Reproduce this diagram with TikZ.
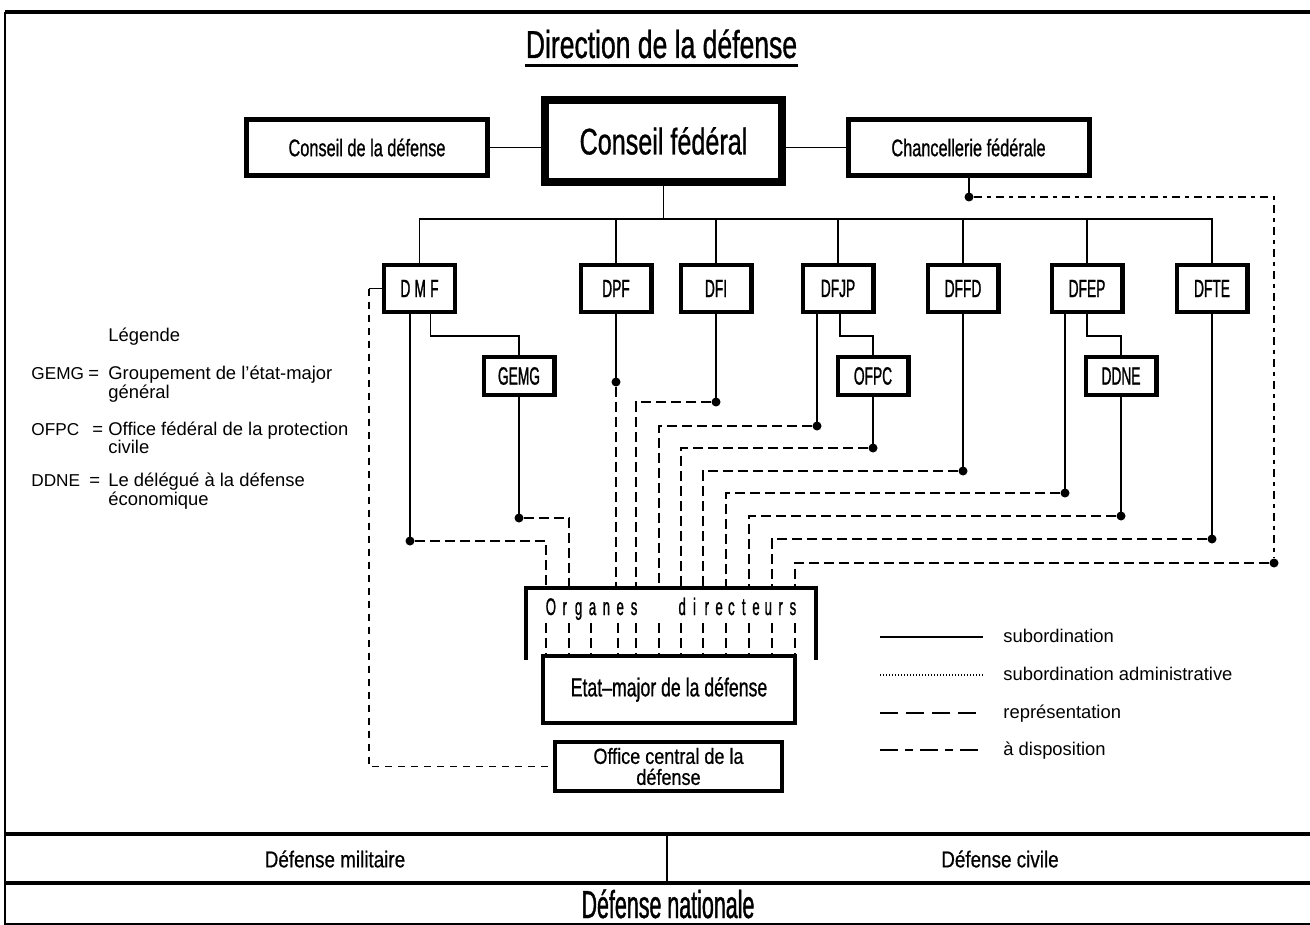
\documentclass[tikz,border=0pt]{standalone}
\usepackage{fontspec}
\setmainfont{Liberation Sans}
\newfontfamily\condA[FakeStretch=0.68,FakeBold=0.8]{Liberation Sans}
\newfontfamily\condN[FakeStretch=0.55,FakeBold=1]{Liberation Sans}
\newfontfamily\condW[FakeStretch=0.82,FakeBold=0.6]{Liberation Sans}
\tikzset{
 box/.style={draw, line width=2.2pt, inner sep=0pt, fill=white},
 dept/.style={box, minimum width=35.3pt, minimum height=23.3pt, font=\condN\fontsize{12.5}{14}\selectfont},
 subbox/.style={box, minimum width=35.3pt, minimum height=18.8pt, font=\condN\fontsize{12.5}{14}\selectfont},
 topbox/.style={box, line width=2.5pt, minimum width=120.5pt, minimum height=28pt, font=\condA\fontsize{12}{14}\selectfont},
 con/.style={line width=0.65pt},
 rep/.style={line width=0.75pt, dash pattern=on 5pt off 2.5pt},
 disp/.style={line width=0.7pt, dash pattern=on 4pt off 2.5pt on 2pt off 2.5pt},
 dispb/.style={line width=0.7pt, dash pattern=on 3.5pt off 3pt},
 stub/.style={line width=0.7pt, dash pattern=on 5pt off 2.5pt},
 dot/.style={circle, fill, inner sep=0pt, minimum size=4.5pt},
 leg/.style={font=\fontsize{9.2}{11}\selectfont, anchor=base west, inner sep=0pt},
 legabbr/.style={leg, font=\fontsize{8.6}{11}\selectfont},
 orgl/.style={font=\condN\fontsize{12}{14}\selectfont, anchor=base, inner sep=0pt},
}
\begin{document}
\begin{tikzpicture}[x=0.5pt,y=-0.5pt]
\useasboundingbox (0,0) rectangle (1310,925);
% frame
\draw[line width=1pt] (5,12) -- (5,925);
\draw[line width=1.6pt] (5,12) -- (1310,12);
\draw[line width=2pt] (5,834) -- (1310,834);
\draw[line width=2pt] (5,883) -- (1310,883);
\draw[line width=0.8pt] (5,924.2) -- (1310,924.2);
\draw[line width=1pt] (667,834) -- (667,883);
% title
\node[font=\condA\fontsize{19.5}{22}\selectfont, anchor=base, inner sep=0pt] (title) at (661.5,58) {Direction de la défense};
\draw[line width=1.5pt] ([yshift=-4pt]title.base west) -- ([yshift=-4pt]title.base east);
% top boxes
\node[box, line width=4pt, minimum width=118.5pt, minimum height=41pt, font=\condA\fontsize{18.5}{20}\selectfont] (cf) at (663.5,141) {Conseil fédéral};
\node[topbox] (cdd) at (367,147.5) {Conseil de la défense};
\node[topbox] (chf) at (968.5,147.5) {Chancellerie fédérale};
\draw[con] (cdd.east) -- (cdd.east -| cf.west);
\draw[con] (chf.west) -- (chf.west -| cf.east);
% departments
\node[dept] (dmf) at (419.5,288.5) {D\,M\,F};
\node[dept] (dpf) at (616,288.5) {DPF};
\node[dept] (dfi) at (716,288.5) {DFI};
\node[dept] (dfjp) at (838,288.5) {DFJP};
\node[dept] (dffd) at (963,288.5) {DFFD};
\node[dept] (dfep) at (1087,288.5) {DFEP};
\node[dept] (dfte) at (1212,288.5) {DFTE};
\node[subbox] (gemg) at (519,376) {GEMG};
\node[subbox] (ofpc) at (873,376) {OFPC};
\node[subbox] (ddne) at (1121,376) {DDNE};
% bus
\coordinate (bus) at (664,219);
\draw[con] (cf.south) -- (cf.south |- bus);
\draw[con] (dmf.north) -- (dmf.north |- bus) -- (dfte.north |- bus) -- (dfte.north);
\foreach \n in {dpf,dfi,dfjp,dffd,dfep} \draw[con] (\n.north) -- (\n.north |- bus);
% sub connectors
\draw[con] ([xshift=5.5pt]dmf.south) -- ++(0,22) -| (gemg.north);
\draw[con] ([xshift=1pt]dfjp.south) -- ++(0,22) -| (ofpc.north);
\draw[con] (dfep.south) -- ++(0,22) -| (ddne.north);
% dots
\node[dot] (p1) at (410,541) {};
\node[dot] (p2) at (519,518) {};
\node[dot] (p3) at (616,382) {};
\node[dot] (p4) at (716,402) {};
\node[dot] (p5) at (817,426) {};
\node[dot] (p6) at (873,448) {};
\node[dot] (p7) at (963,471) {};
\node[dot] (p8) at (1065,493) {};
\node[dot] (p9) at (1121,516) {};
\node[dot] (p10) at (1212,539) {};
\node[dot] (p11) at (969,197) {};
\node[dot] (p12) at (1274,563) {};
% solid to dots
\draw[con] (dmf.south -| p1) -- (p1.center);
\draw[con] (gemg.south) -- (p2.center);
\draw[con] (dpf.south) -- (p3.center);
\draw[con] (dfi.south) -- (p4.center);
\draw[con] (dfjp.south -| p5) -- (p5.center);
\draw[con] (ofpc.south) -- (p6.center);
\draw[con] (dffd.south) -- (p7.center);
\draw[con] (dfep.south -| p8) -- (p8.center);
\draw[con] (ddne.south) -- (p9.center);
\draw[con] (dfte.south) -- (p10.center);
\draw[con] (chf.south -| p11) -- (p11.center);
% organes directeurs
\draw[line width=2pt] (526,660) -- (526,588) -- (816,588) -- (816,660);
\foreach \x [count=\i] in {546,569,616,636,659,681,703,726,749,772,795} \coordinate (o\i) at (\x,588);
\draw[rep] (p1) -| (o1);
\draw[rep] (p2) -| (o2);
\draw[rep] (p3) -- (o3);
\draw[rep] (p4) -| (o4);
\draw[rep] (p5) -| (o5);
\draw[rep] (p6) -| (o6);
\draw[rep] (p7) -| (o7);
\draw[rep] (p8) -| (o8);
\draw[rep] (p9) -| (o9);
\draw[rep] (p10) -| (o10);
\draw[disp] (p11) -| (p12);
\draw[rep] (p12) -| (o11);
\foreach \c [count=\i] in {O,r,g,a,n,e,s} \node[orgl] (og\i) at ({550.9+13.86*(\i-1)},615) {\c};
\foreach \c [count=\i] in {d,i,r,e,c,t,e,u,r,s} \node[orgl] (od\i) at ({682.2+12.3*(\i-1)},615) {\c};
% etat-major and office
\node[box, line width=2.2pt, minimum width=125.8pt, minimum height=33.3pt, font=\condA\fontsize{13}{15}\selectfont] (em) at (669,689.5) {Etat–major de la défense};
\foreach \x [count=\i] in {546,569,591,618,636,659,681,703,726,749,772,795} {\coordinate (s\i) at (\x,623); \draw[stub] (s\i) -- (s\i |- em.north);}
\node[box, line width=2.2pt, minimum width=113.3pt, minimum height=24.3pt, align=center, font=\condW\fontsize{11}{10.5}\selectfont] (oc) at (668.5,766.5) {Office central de la\\défense};
\draw[con] (dmf.west) -- ++(-6.5pt,0) coordinate (l1);
\draw[dispb] (l1) |- (oc.west);
% left legend
\node[leg] (lg) at (108,341) {Légende};
\node[legabbr] (a1) at (31,379) {GEMG};
\node[leg] (e1) at (88,379) {=};
\node[leg] (t1) at (108,379) {Groupement de l’état-major};
\node[leg] (t1b) at (108,398) {général};
\node[legabbr] (a2) at (31,435) {OFPC};
\node[leg] (e2) at (92,435) {=};
\node[leg] (t2) at (108,435) {Office fédéral de la protection};
\node[leg] (t2b) at (108,453) {civile};
\node[legabbr] (a3) at (31,486) {DDNE};
\node[leg] (e3) at (89,486) {=};
\node[leg] (t3) at (108,486) {Le délégué à la défense};
\node[leg] (t3b) at (108,505) {économique};
% right legend
\coordinate (la1) at (880,637); \coordinate (lb1) at (983,637);
\draw[con] (la1) -- (lb1);
\node[leg] (lt1) at (1003,642) {subordination};
\coordinate (la2) at (880,675); \coordinate (lb2) at (983,675);
\draw[line width=0.6pt, dash pattern=on 0.6pt off 0.9pt] (la2) -- (lb2);
\node[leg] (lt2) at (1003,680) {subordination administrative};
\coordinate (la3) at (880,713); \coordinate (lb3) at (983,713);
\draw[line width=0.75pt, dash pattern=on 9pt off 4pt] (la3) -- (lb3);
\node[leg] (lt3) at (1003,718) {représentation};
\coordinate (la4) at (880,750); \coordinate (lb4) at (983,750);
\draw[line width=0.75pt, dash pattern=on 9pt off 3.5pt on 4pt off 3.5pt] (la4) -- (lb4);
\node[leg] (lt4) at (1003,755) {à disposition};
% bottom
\node[font=\condW\fontsize{11.5}{13}\selectfont] (dm) at (335,859) {Défense militaire};
\node[font=\condW\fontsize{11.5}{13}\selectfont] (dc) at (1000,859) {Défense civile};
\node[font=\condN\fontsize{19.5}{22}\selectfont, anchor=base, inner sep=0pt] (dn) at (668,918) {Défense nationale};
\end{tikzpicture}
\end{document}
